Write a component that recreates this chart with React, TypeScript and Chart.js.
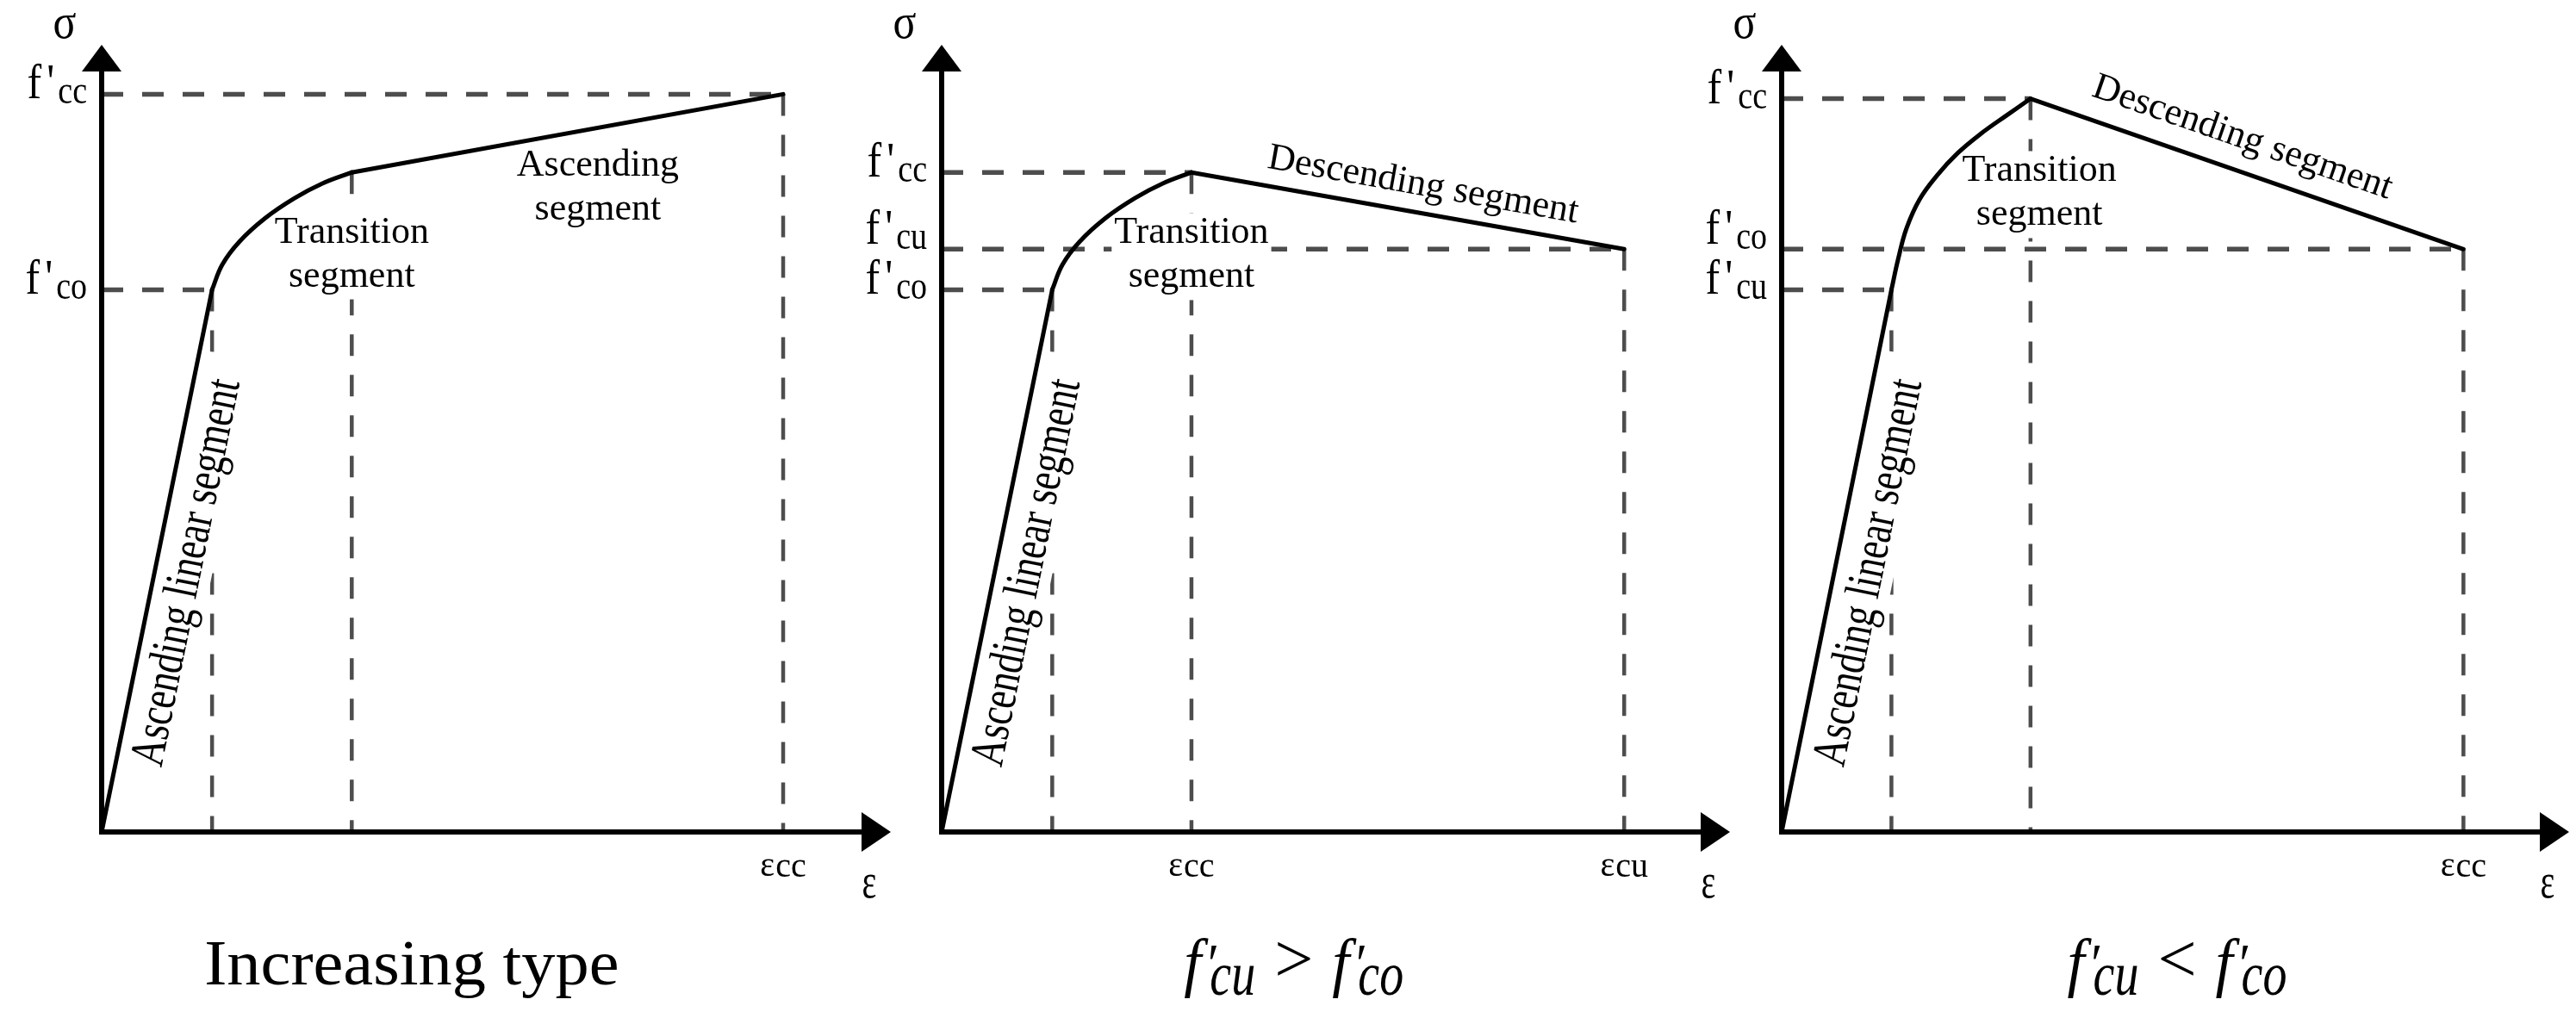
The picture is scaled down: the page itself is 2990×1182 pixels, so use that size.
import React, { useEffect, useRef } from "react";
import { Chart, registerables } from "chart.js";

Chart.register(...registerables);

const SERIF = "'Liberation Serif', 'Times New Roman', serif";
const DASH_COLOR = "#4d4d4d";

// ---------------- Panel 1: increasing type ----------------
const incStrain = [0, 1.62, 1.77, 2.02, 2.4, 2.83, 3.24, 3.67, 10.0];
const incStress = [0, 7.35, 7.69, 8.0, 8.32, 8.59, 8.79, 8.94, 10.0];
const incYTickValues = [7.35, 10.0];
const incYTickSubs = ["co", "cc"];
const incXTickValues = [10.0];
const incXTickSubs = ["cc"];
const incHGuides = [1, 8];
const incVGuides = [1, 7, 8];

// ---------------- Panel 2: f'cu > f'co ----------------
const upStrain = [0, 1.62, 1.77, 2.02, 2.4, 2.83, 3.24, 3.66, 10.0];
const upStress = [0, 7.35, 7.69, 8.0, 8.32, 8.59, 8.79, 8.94, 7.9];
const upYTickValues = [7.35, 7.9, 8.94];
const upYTickSubs = ["co", "cu", "cc"];
const upXTickValues = [3.66, 10.0];
const upXTickSubs = ["cc", "cu"];
const upHGuides = [1, 7, 8];
const upVGuides = [1, 7, 8];

// ---------------- Panel 3: f'cu < f'co ----------------
const lowStrain = [0, 1.61, 1.71, 1.83, 2.02, 2.28, 2.58, 2.93, 3.31, 3.65, 10.0];
const lowStress = [0, 7.35, 7.77, 8.18, 8.57, 8.9, 9.2, 9.47, 9.72, 9.94, 7.9];
const lowYTickValues = [7.35, 7.9, 9.94];
const lowYTickSubs = ["cu", "co", "cc"];
const lowXTickValues = [10.0];
const lowXTickSubs = ["cc"];
const lowHGuides = [1, 9, 10];
const lowVGuides = [1, 9, 10];

// segment names
const SEG_LINEAR = "Ascending linear segment";
const SEG_TRANSITION = ["Transition", "segment"];
const SEG_ASCENDING = ["Ascending", "segment"];
const SEG_DESCENDING = "Descending segment";

type Block = { lines: string[]; x: number; y: number; bg: boolean };
type Along = { text: string; from: number; to: number; x: number; y: number; bg: boolean; tall: boolean };
type Title =
  | { kind: "plain"; text: string; x: number }
  | { kind: "math"; a: string; op: string; b: string; x: number };

type Panel = {
  strain: number[];
  stress: number[];
  linEnd: number;
  peak: number;
  xMax: number;
  yMax: number;
  yTickValues: number[];
  yTickSubs: string[];
  xTickValues: number[];
  xTickSubs: string[];
  hGuides: number[];
  vGuides: number[];
  blocks: Block[];
  along: Along[];
  title: Title;
  left: number;
  width: number;
  padLeft: number;
  padRight: number;
};

const HEIGHT = 1182;
const PAD_TOP = 52;
const PAD_BOTTOM = 216;

const panels: Panel[] = [
  {
    strain: incStrain,
    stress: incStress,
    linEnd: 1,
    peak: 7,
    xMax: 11.58,
    yMax: 10.67,
    yTickValues: incYTickValues,
    yTickSubs: incYTickSubs,
    xTickValues: incXTickValues,
    xTickSubs: incXTickSubs,
    hGuides: incHGuides,
    vGuides: incVGuides,
    blocks: [
      { lines: SEG_TRANSITION, x: 3.67, y: 7.99, bg: true },
      { lines: SEG_ASCENDING, x: 7.28, y: 8.9, bg: false },
    ],
    along: [{ text: SEG_LINEAR, from: 0, to: 1, x: 1.45, y: 3.48, bg: true, tall: true }],
    title: { kind: "plain", text: "Increasing type", x: 4.55 },
    left: 0,
    width: 1045,
    padLeft: 118,
    padRight: 11,
  },
  {
    strain: upStrain,
    stress: upStress,
    linEnd: 1,
    peak: 7,
    xMax: 11.55,
    yMax: 10.67,
    yTickValues: upYTickValues,
    yTickSubs: upYTickSubs,
    xTickValues: upXTickValues,
    xTickSubs: upXTickSubs,
    hGuides: upHGuides,
    vGuides: upVGuides,
    blocks: [{ lines: SEG_TRANSITION, x: 3.66, y: 7.98, bg: true }],
    along: [
      { text: SEG_LINEAR, from: 0, to: 1, x: 1.45, y: 3.48, bg: true, tall: true },
      { text: SEG_DESCENDING, from: 7, to: 8, x: 7.03, y: 8.63, bg: false, tall: false },
    ],
    title: { kind: "math", a: "cu", op: ">", b: "co", x: 5.16 },
    left: 980,
    width: 1040,
    padLeft: 113,
    padRight: 12,
  },
  {
    strain: lowStrain,
    stress: lowStress,
    linEnd: 1,
    peak: 9,
    xMax: 11.55,
    yMax: 10.67,
    yTickValues: lowYTickValues,
    yTickSubs: lowYTickSubs,
    xTickValues: lowXTickValues,
    xTickSubs: lowXTickSubs,
    hGuides: lowHGuides,
    vGuides: lowVGuides,
    blocks: [{ lines: SEG_TRANSITION, x: 3.78, y: 8.82, bg: true }],
    along: [
      { text: SEG_LINEAR, from: 0, to: 1, x: 1.48, y: 3.48, bg: true, tall: true },
      { text: SEG_DESCENDING, from: 9, to: 10, x: 6.71, y: 9.28, bg: false, tall: false },
    ],
    title: { kind: "math", a: "cu", op: "<", b: "co", x: 5.8 },
    left: 1950,
    width: 1040,
    padLeft: 118,
    padRight: 8,
  },
];

function txt(
  ctx: CanvasRenderingContext2D,
  s: string,
  x: number,
  y: number,
  font: string,
  align: CanvasTextAlign = "left",
  sx = 1,
  sy = 1
) {
  ctx.save();
  ctx.translate(x, y);
  ctx.scale(sx, sy);
  ctx.font = font;
  ctx.textAlign = align;
  ctx.textBaseline = "alphabetic";
  ctx.fillStyle = "#000";
  ctx.fillText(s, 0, 0);
  ctx.restore();
}

function mw(ctx: CanvasRenderingContext2D, s: string, font: string) {
  ctx.save();
  ctx.font = font;
  const v = ctx.measureText(s).width;
  ctx.restore();
  return v;
}

const LABEL_FONT = `44px ${SERIF}`;

function makePlugin(p: Panel) {
  return {
    id: "stressStrainPanel",
    beforeDatasetsDraw(chart: any) {
      const ctx: CanvasRenderingContext2D = chart.ctx;
      const xs = chart.scales.x;
      const ys = chart.scales.y;
      const px = (v: number) => xs.getPixelForValue(v);
      const py = (v: number) => ys.getPixelForValue(v);
      const ox = px(0);
      const oy = py(0);

      // dashed guides
      ctx.save();
      ctx.strokeStyle = DASH_COLOR;
      ctx.setLineDash([25, 22]);
      ctx.lineCap = "butt";
      ctx.lineWidth = 5.5;
      for (const i of p.hGuides) {
        ctx.beginPath();
        ctx.moveTo(ox, py(p.stress[i]));
        ctx.lineTo(px(p.strain[i]), py(p.stress[i]));
        ctx.stroke();
      }
      ctx.lineWidth = 4.5;
      for (const i of p.vGuides) {
        ctx.beginPath();
        ctx.moveTo(px(p.strain[i]), py(p.stress[i]));
        ctx.lineTo(px(p.strain[i]), oy);
        ctx.stroke();
      }
      ctx.restore();

      // block labels
      const lineH = 51;
      for (const b of p.blocks) {
        const cx = px(b.x);
        const by = py(b.y);
        if (b.bg) {
          let maxW = 0;
          for (const l of b.lines) maxW = Math.max(maxW, mw(ctx, l, LABEL_FONT));
          ctx.save();
          ctx.fillStyle = "#fff";
          const top = by - 31 - 4;
          const bottom = by + (b.lines.length - 1) * lineH + 11 + 4;
          ctx.fillRect(cx - maxW / 2 - 3, top, maxW + 6, bottom - top);
          ctx.restore();
        }
        b.lines.forEach((l, k) => txt(ctx, l, cx, by + k * lineH, LABEL_FONT, "center"));
      }

      // labels along segments
      for (const a of p.along) {
        const x0 = px(p.strain[a.from]);
        const y0 = py(p.stress[a.from]);
        const x1 = px(p.strain[a.to]);
        const y1 = py(p.stress[a.to]);
        const ang = Math.atan2(y1 - y0, x1 - x0);
        const ax = px(a.x);
        const ay = py(a.y);
        const w = mw(ctx, a.text, LABEL_FONT);
        const sy = a.tall ? 1.3 : 1;
        ctx.save();
        ctx.translate(ax, ay);
        ctx.rotate(ang);
        if (a.bg) {
          ctx.fillStyle = "#fff";
          const asc = 31 * sy + 6;
          ctx.fillRect(-w / 2 - 28, -asc, w + 56, asc + 13);
        }
        ctx.scale(1, sy);
        ctx.font = LABEL_FONT;
        ctx.textAlign = "center";
        ctx.textBaseline = "alphabetic";
        ctx.fillStyle = "#000";
        ctx.fillText(a.text, 0, 0);
        ctx.restore();
      }
    },
    afterDatasetsDraw(chart: any) {
      const ctx: CanvasRenderingContext2D = chart.ctx;
      const xs = chart.scales.x;
      const ys = chart.scales.y;
      const area = chart.chartArea;
      const px = (v: number) => xs.getPixelForValue(v);
      const py = (v: number) => ys.getPixelForValue(v);
      const ox = px(0);
      const oy = py(0);
      const tipX = area.right;
      const tipY = area.top;

      // axes
      ctx.save();
      ctx.setLineDash([]);
      ctx.strokeStyle = "#000";
      ctx.lineWidth = 6;
      ctx.lineCap = "butt";
      ctx.beginPath();
      ctx.moveTo(ox, oy + 3);
      ctx.lineTo(ox, tipY + 28);
      ctx.stroke();
      ctx.beginPath();
      ctx.moveTo(ox - 3, oy);
      ctx.lineTo(tipX - 31, oy);
      ctx.stroke();
      ctx.fillStyle = "#000";
      ctx.beginPath();
      ctx.moveTo(ox, tipY);
      ctx.lineTo(ox - 23, tipY + 31);
      ctx.lineTo(ox + 23, tipY + 31);
      ctx.closePath();
      ctx.fill();
      ctx.beginPath();
      ctx.moveTo(tipX, oy);
      ctx.lineTo(tipX - 34, oy - 23);
      ctx.lineTo(tipX - 34, oy + 23);
      ctx.closePath();
      ctx.fill();
      ctx.restore();

      // axis symbols
      txt(ctx, "σ", ox - 43, tipY - 8, `50px ${SERIF}`, "center", 1, 1.15);
      txt(ctx, "ε", tipX - 25, oy + 76, `40px ${SERIF}`, "center", 1, 1.45);

      // y tick labels f'xx
      const fF = `50px ${SERIF}`;
      const sF = `38px ${SERIF}`;
      const items = p.yTickValues
        .map((v, i) => ({ ly: py(v) + 5, sub: p.yTickSubs[i] }))
        .sort((a, b) => a.ly - b.ly);
      for (let i = items.length - 2; i >= 0; i--) {
        const gap = items[i + 1].ly - items[i].ly;
        if (gap < 58) items[i].ly = items[i + 1].ly - 58;
      }
      const wf = mw(ctx, "f", fF);
      const wq = mw(ctx, "'", fF);
      for (const it of items) {
        const ws = mw(ctx, it.sub, sF);
        const total = wf + 6 + wq + 4 + ws;
        const x0 = ox - 17 - total;
        txt(ctx, "f", x0, it.ly, fF, "left", 1, 1.15);
        txt(ctx, "'", x0 + wf + 6, it.ly, fF, "left", 1, 1.15);
        txt(ctx, it.sub, x0 + wf + 6 + wq + 4, it.ly + 6, sF, "left", 1, 1.22);
      }

      // x tick labels εxx
      const eF = `40px ${SERIF}`;
      p.xTickValues.forEach((v, i) => {
        const we = mw(ctx, "ε", eF);
        const ws = mw(ctx, p.xTickSubs[i], eF);
        const total = we + 1 + ws;
        const x0 = px(v) - total / 2;
        txt(ctx, "ε", x0, oy + 51, eF, "left", 1, 1.05);
        txt(ctx, p.xTickSubs[i], x0 + we + 1, oy + 52, eF, "left", 1, 1.05);
      });

      // title
      const tby = oy + 177;
      const t = p.title;
      if (t.kind === "plain") {
        txt(ctx, t.text, px(t.x), tby, `74px ${SERIF}`, "center", 1.06, 1);
      } else {
        const fFont = `italic 72px ${SERIF}`;
        const subFont = `italic 56px ${SERIF}`;
        const opFont = `80px ${SERIF}`;
        const primeFont = `italic 60px ${SERIF}`;
        const wF = mw(ctx, "f", fFont);
        const wa = mw(ctx, t.a, subFont);
        const wb = mw(ctx, t.b, subFont);
        const wo = mw(ctx, t.op, opFont);
        const gapF = 10;
        const gapOp = 22;
        const total = wF + gapF + wa + gapOp + wo + gapOp + wF + gapF + wb;
        let x = px(t.x) - total / 2;
        const drawF = (sub: string, ws: number) => {
          txt(ctx, "f", x, tby, fFont, "left", 1, 1.05);
          txt(ctx, "′", x + wF + 4, tby - 2, primeFont, "left", 1, 1.1);
          txt(ctx, sub, x + wF + gapF, tby + 12, subFont, "left", 1, 1.3);
          x += wF + gapF + ws;
        };
        drawF(t.a, wa);
        x += gapOp;
        txt(ctx, t.op, x, tby - 3, opFont, "left");
        x += wo + gapOp;
        drawF(t.b, wb);
      }
    },
  };
}

function buildChart(canvas: HTMLCanvasElement, p: Panel) {
  const pts = (a: number, b: number) => {
    const out: { x: number; y: number }[] = [];
    for (let i = a; i <= b; i++) out.push({ x: p.strain[i], y: p.stress[i] });
    return out;
  };
  const last = p.strain.length - 1;
  const common = {
    borderColor: "#000",
    borderWidth: 5,
    pointRadius: 0,
    pointHoverRadius: 0,
    fill: false,
    clip: false as any,
    borderCapStyle: "round" as const,
    borderJoinStyle: "round" as const,
  };
  return new Chart(canvas, {
    type: "line",
    data: {
      datasets: [
        { ...common, data: pts(0, p.linEnd), tension: 0 },
        { ...common, data: pts(p.linEnd, p.peak), tension: 0.4 },
        { ...common, data: pts(p.peak, last), tension: 0 },
      ],
    } as any,
    options: {
      responsive: false,
      maintainAspectRatio: false,
      animation: false,
      devicePixelRatio: 1,
      events: [],
      layout: {
        padding: { left: p.padLeft, right: p.padRight, top: PAD_TOP, bottom: PAD_BOTTOM },
      },
      plugins: { legend: { display: false }, tooltip: { enabled: false }, title: { display: false } },
      scales: {
        x: { type: "linear", min: 0, max: p.xMax, display: false },
        y: { type: "linear", min: 0, max: p.yMax, display: false },
      },
    } as any,
    plugins: [makePlugin(p) as any],
  });
}

export default function App() {
  const r0 = useRef<HTMLCanvasElement>(null);
  const r1 = useRef<HTMLCanvasElement>(null);
  const r2 = useRef<HTMLCanvasElement>(null);
  const refs = [r0, r1, r2];

  useEffect(() => {
    const charts = panels.map((p, i) => buildChart(refs[i].current as HTMLCanvasElement, p));
    return () => charts.forEach((c) => c.destroy());
  }, []);

  return (
    <div
      style={{
        position: "fixed",
        left: 0,
        top: 0,
        width: 2990,
        height: HEIGHT,
        background: "#fff",
        overflow: "hidden",
      }}
    >
      {panels.map((p, i) => (
        <canvas
          key={i}
          ref={refs[i]}
          width={p.width}
          height={HEIGHT}
          style={{ position: "absolute", left: p.left, top: 0, width: p.width, height: HEIGHT }}
        />
      ))}
    </div>
  );
}
